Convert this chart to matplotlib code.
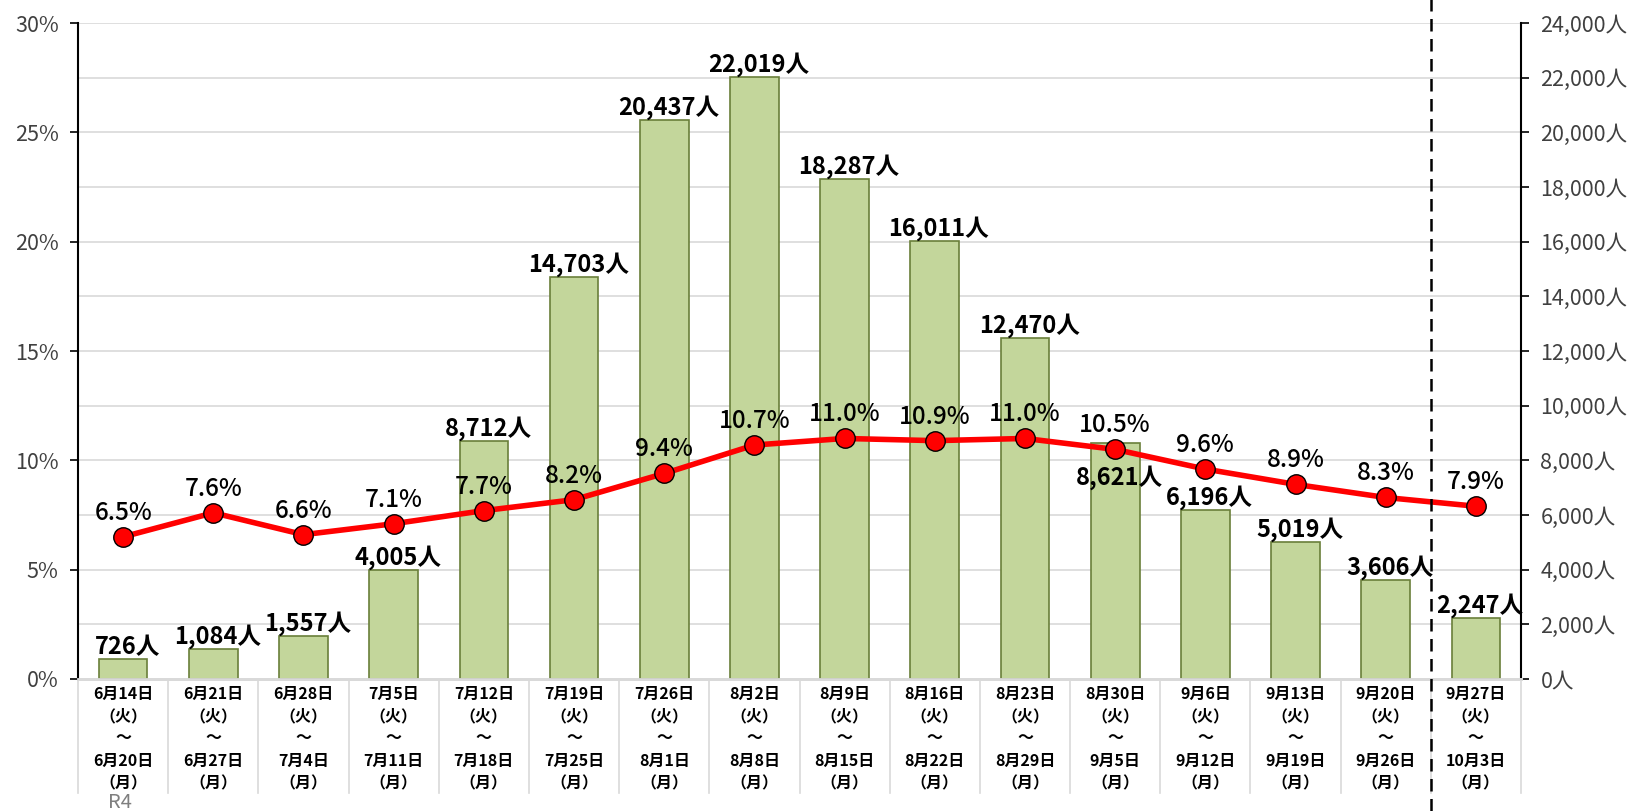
import matplotlib
matplotlib.use("Agg")
import matplotlib.pyplot as plt
import matplotlib.transforms as mtransforms

plt.rcParams['font.family'] = ['Noto Sans CJK JP', 'DejaVu Sans']

# week ranges (start / end)
start_days = ["6月14日", "6月21日", "6月28日", "7月5日", "7月12日", "7月19日", "7月26日", "8月2日",
              "8月9日", "8月16日", "8月23日", "8月30日", "9月6日", "9月13日", "9月20日", "9月27日"]
end_days = ["6月20日", "6月27日", "7月4日", "7月11日", "7月18日", "7月25日", "8月1日", "8月8日",
            "8月15日", "8月22日", "8月29日", "9月5日", "9月12日", "9月19日", "9月26日", "10月3日"]
people = [726, 1084, 1557, 4005, 8712, 14703, 20437, 22019,
          18287, 16011, 12470, 8621, 6196, 5019, 3606, 2247]
rate = [6.5, 7.6, 6.6, 7.1, 7.7, 8.2, 9.4, 10.7,
        11.0, 10.9, 11.0, 10.5, 9.6, 8.9, 8.3, 7.9]

n = len(people)
x = list(range(n))

fig = plt.figure(figsize=(16.36, 8.11), dpi=100)
ax = fig.add_axes([0.0477, 0.1628, 0.882, 0.8088])
ax2 = ax.twinx()

# bars on right axis
ax2.bar(x, people, width=0.54, color='#c3d69b', edgecolor='#6a7f3a', linewidth=1.2, zorder=3)
ax2.set_ylim(0, 24000)
ax2.set_yticks(range(0, 24001, 2000))
ax2.set_yticklabels([f"{v:,}人" for v in range(0, 24001, 2000)])
ax2.grid(axis='y', color='#d9d9d9', linewidth=1.2, zorder=0)
ax2.set_axisbelow(True)

for i, v in enumerate(people):
    if i == 11:
        ax2.annotate(f"{v:,}人", (i, v), xytext=(3, -16), textcoords='offset points',
                     ha='center', va='top', fontsize=17, fontweight='bold', zorder=5)
    else:
        ax2.annotate(f"{v:,}人", (i, v), xytext=(3, 0), textcoords='offset points',
                     ha='center', va='bottom', fontsize=17, fontweight='bold', zorder=5)

# rate line on left axis, drawn above bars
ax.set_zorder(ax2.get_zorder() + 1)
ax.patch.set_visible(False)
ax.plot(x, rate, color='#ff0000', linewidth=4, marker='o', markersize=14,
        markerfacecolor='#ff0000', markeredgecolor='black', markeredgewidth=1, zorder=4)
for i, v in enumerate(rate):
    ax.annotate(f"{v:.1f}%", (i, v), xytext=(0, 8), textcoords='offset points',
                ha='center', va='bottom', fontsize=17.5, fontweight='medium', color='black')

ax.set_ylim(0, 30)
ax.set_yticks(range(0, 31, 5))
ax.set_yticklabels([f"{v}%" for v in range(0, 31, 5)])
ax.set_xlim(-0.5, n - 0.5)
ax2.set_xlim(-0.5, n - 0.5)

for a in (ax, ax2):
    a.spines['top'].set_visible(False)
    a.spines['bottom'].set_color('#d9d9d9')
    a.spines['bottom'].set_linewidth(2)
    a.set_xticks(x)
    a.tick_params(axis='x', length=0, labelbottom=False)
ax.spines['right'].set_visible(False)
ax.spines['left'].set_linewidth(1.5)
ax2.spines['left'].set_visible(False)
ax2.spines['right'].set_linewidth(1.5)
ax.tick_params(axis='y', labelsize=15.5, labelcolor='#404040', length=6, width=1.2, pad=8)
ax2.tick_params(axis='y', labelsize=15.5, labelcolor='#404040', length=6, width=1.2, pad=8)

# category table under axis
trans = mtransforms.blended_transform_factory(ax.transData, ax.transAxes)
for b in range(n + 1):
    ax.plot([b - 0.5, b - 0.5], [0, -0.174], transform=trans, clip_on=False,
            color='#d9d9d9', linewidth=1.2)
for i in x:
    lines = [start_days[i], "（火）", "～", end_days[i], "（月）"]
    for k, (t, dy) in enumerate(zip(lines, [15, 37, 59, 82, 104])):
        ax.annotate(t, (i, 0), xycoords=trans, xytext=(0, -dy), textcoords='offset pixels',
                    ha='center', va='center', fontsize=11.5, fontweight='bold')
ax.annotate("R4", (0, 0), xycoords=trans, xytext=(-3, -124), textcoords='offset pixels',
            ha='center', va='center', fontsize=14.5, color='#7f7f7f')

# dashed separator before latest week
ax.plot([n - 1.5, n - 1.5], [-0.201, 1.04], transform=trans, clip_on=False,
        color='black', linewidth=1.8, linestyle=(0, (5, 3)), zorder=6)

fig.savefig("out.png", dpi=100)
